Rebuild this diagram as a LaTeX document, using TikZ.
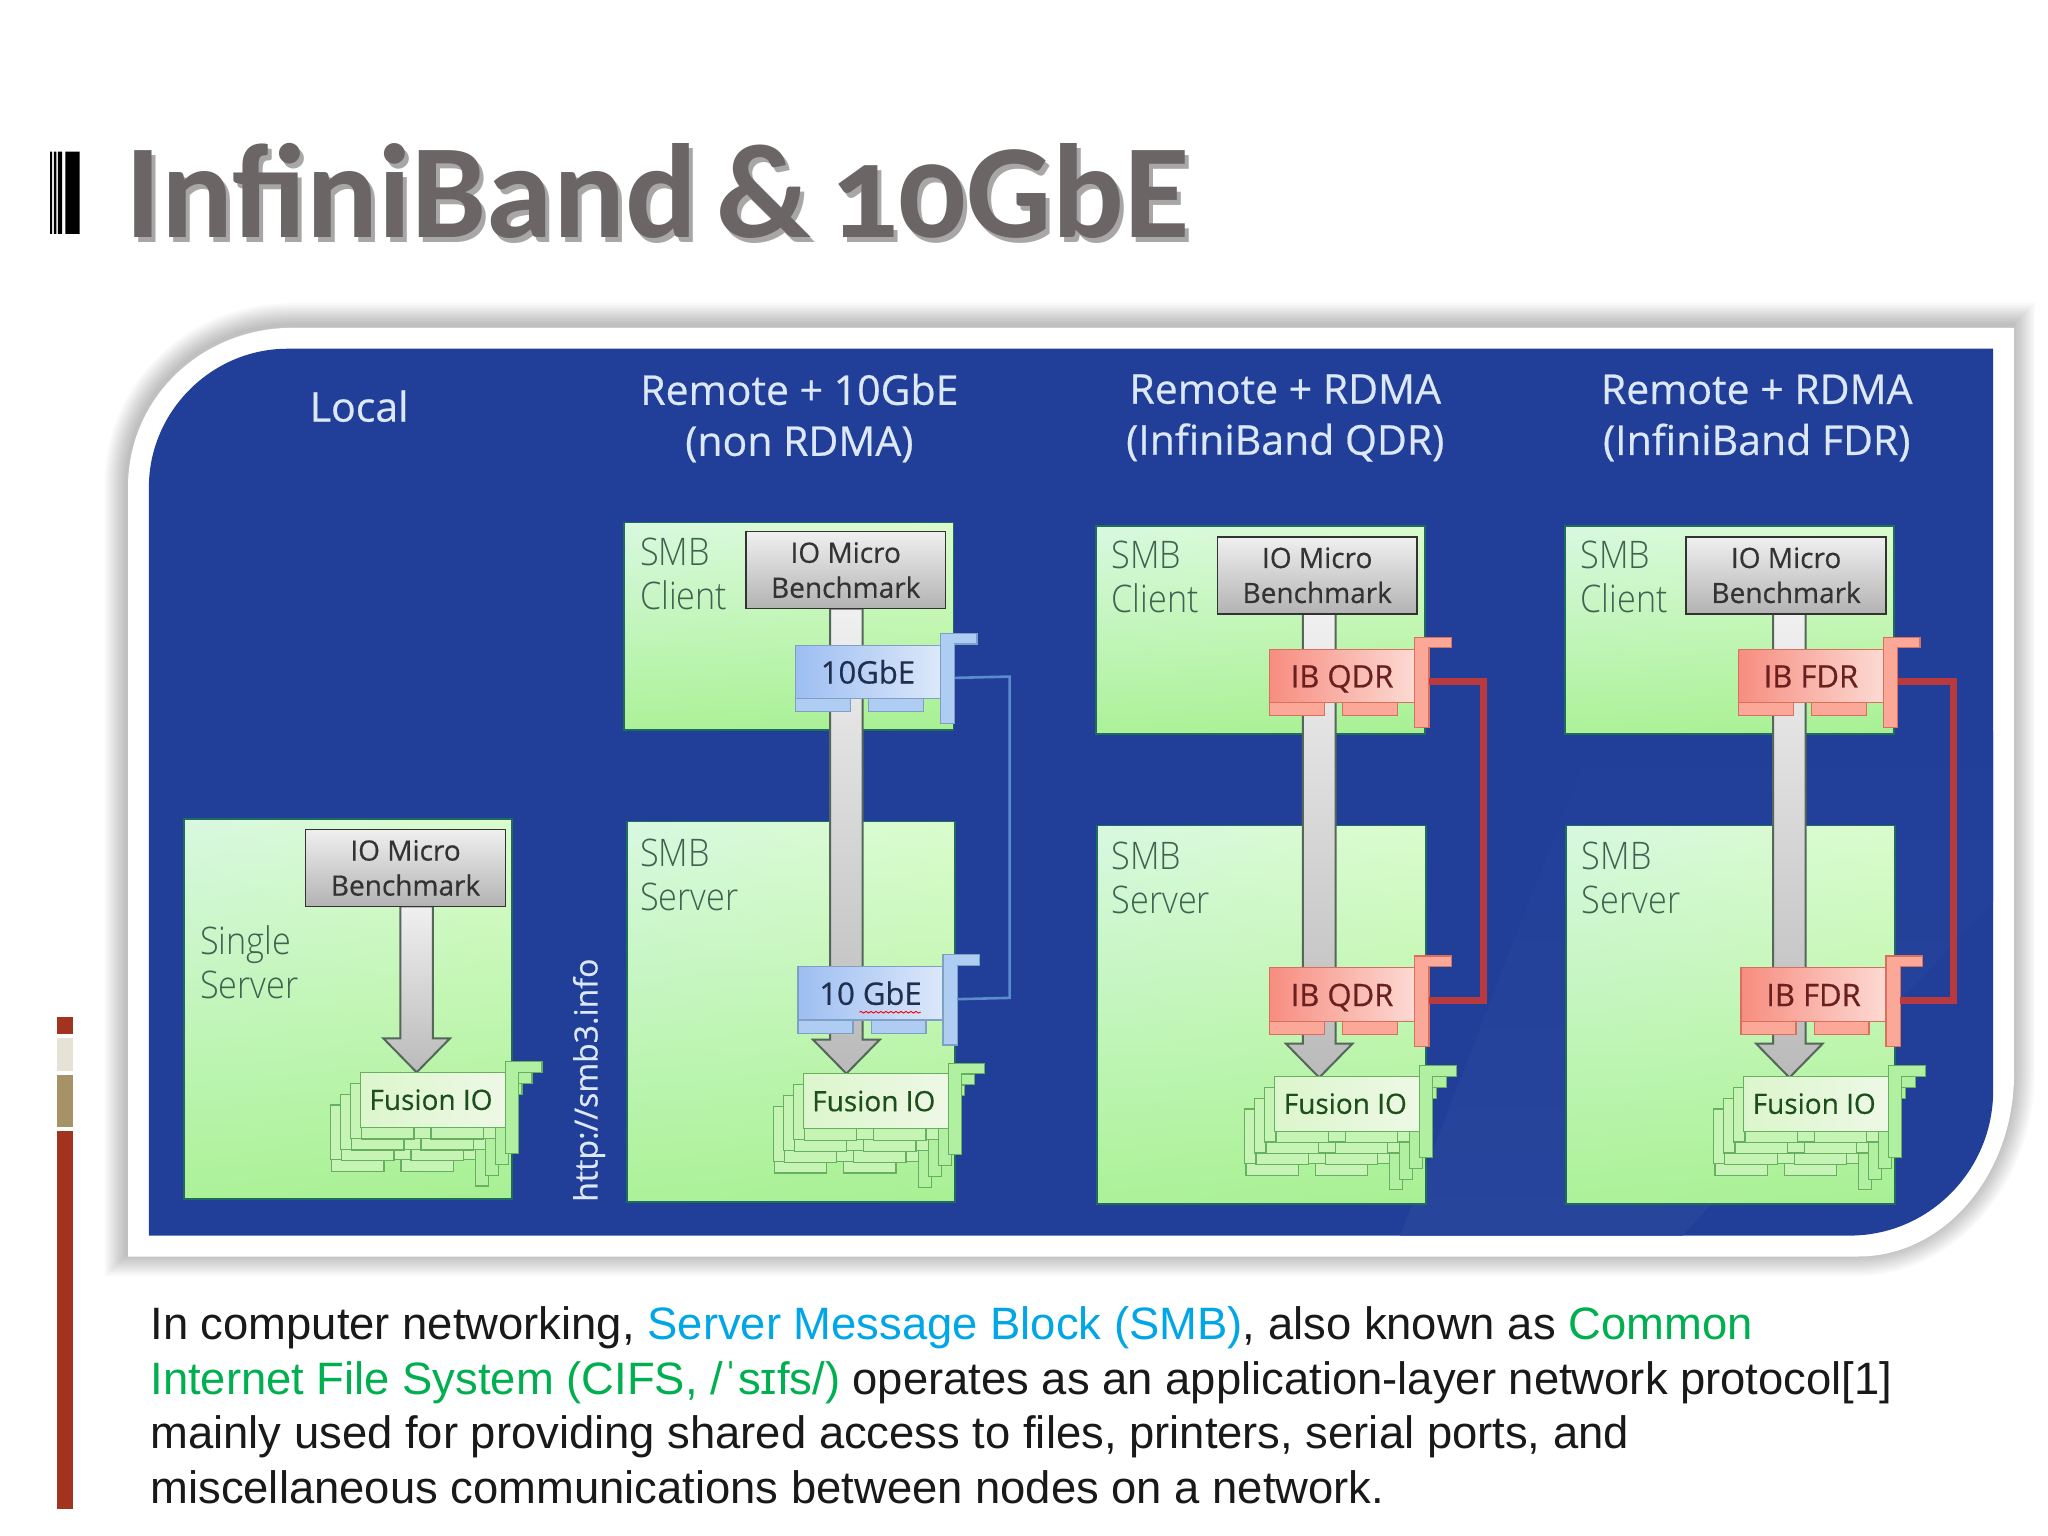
\documentclass[tikz,border=0pt]{standalone}
\usepackage{fontspec}
\setmainfont{Open Sans}
\newfontfamily\semifont{Open Sans}[FakeBold=0.5]
\IfFontExistsTF{Open Sans Light}
  {\newfontfamily\thinfont{Open Sans Light}[FakeStretch=0.9]}
  {\newfontfamily\thinfont{Open Sans}[FakeStretch=0.9]}
\newfontfamily\titlefont{Carlito}[Numbers=OldStyle,WordSpace=0.65]
\newfontfamily\bodyfont{Liberation Sans}
\usetikzlibrary{calc,shadings,decorations.pathmorphing}

\definecolor{panelblue}{HTML}{213F99}
\definecolor{swoosh}{HTML}{28459C}
\definecolor{headtext}{HTML}{DCE8F6}
\definecolor{paneltext}{HTML}{3F6350}
\definecolor{edge}{HTML}{1F6B5E}
\definecolor{titlegrey}{HTML}{6B6566}
\definecolor{titleshade}{HTML}{A8A6A6}
\definecolor{cyantext}{HTML}{00A6E6}
\definecolor{greentext}{HTML}{00B050}
\definecolor{barred}{HTML}{A1331F}
\definecolor{bartan}{HTML}{A79268}
\definecolor{barcream}{HTML}{E6E3D6}
\definecolor{pul}{HTML}{D8F8E0}
\definecolor{pur}{HTML}{DAFCCC}
\definecolor{pll}{HTML}{ACF298}
\definecolor{plr}{HTML}{A8F094}
\definecolor{arrowedge}{HTML}{55665A}
\definecolor{blueL}{HTML}{9DBEF2}
\definecolor{blueR}{HTML}{DCE8FA}
\definecolor{blueE}{HTML}{7F9FC4}
\definecolor{blueP}{HTML}{AFCCF2}
\definecolor{blueT}{HTML}{1F2F4F}
\definecolor{redL}{HTML}{F78D80}
\definecolor{redR}{HTML}{FCDAD3}
\definecolor{redE}{HTML}{D8705F}
\definecolor{redP}{HTML}{FBA898}
\definecolor{redT}{HTML}{6B2020}
\definecolor{redwire}{HTML}{B93A3E}
\definecolor{bluewire}{HTML}{5B8CCB}
\definecolor{layerE}{HTML}{66B060}
\definecolor{layerF}{HTML}{C6F4B4}
\definecolor{tabF}{HTML}{B0F0A0}
\definecolor{frontL}{HTML}{DCF6CC}
\definecolor{frontR}{HTML}{EEF8E6}
\definecolor{fusionT}{HTML}{1D4F1D}

\def\u{1.30612pt}

\tikzset{
  wh/.style 2 args={minimum width=#1*\u, minimum height=#2*\u, inner sep=0pt, outer sep=0pt},
  panel/.style={shade, draw=edge, line width=1.8pt, anchor=north west,
    upper left=pul, upper right=pur, lower left=pll, lower right=plr},
  iobox/.style={wh={153}{59}, anchor=north west, draw=black!80, line width=1.6pt,
    top color=black!6, bottom color=black!30, text=black!80, align=center,
    font=\semifont\fontsize{28}{35}\selectfont},
  head/.style={text=headtext, align=center, font=\semifont\fontsize{41}{51}\selectfont},
  plabel/.style={text=paneltext, align=left, anchor=west, inner sep=0pt,
    font=\thinfont\fontsize{38}{44}\selectfont},
  fatarrow/.style={draw=arrowedge, line width=2pt, top color=black!6, bottom color=black!27},
  blue card/.style={left color=blueL, right color=blueR, draw=blueE},
  blue part/.style={fill=blueP, draw=blueE},
  blue ink/.style={text=blueT},
  red card/.style={left color=redL, right color=redR, draw=redE},
  red part/.style={fill=redP, draw=redE},
  red ink/.style={text=redT},
  redlink/.style={draw=redwire, line width=7pt, line join=miter},
  bluelink/.style={draw=bluewire, line width=2.6pt},
  pics/nic/.style 2 args={code={
    \draw[#2 part, line width=1.2pt] (0,41) rectangle (42,51);
    \draw[#2 part, line width=1.2pt] (56,41) rectangle (98,51);
    \node (-body) [#2 card, #2 ink, wh={111}{41}, anchor=north west, line width=1.2pt,
      text height=23pt, text depth=0pt, font=\semifont\fontsize{31}{36}\selectfont] at (0,0) {#1};
    \draw[#2 part, line width=1.2pt] (111,-9) -- (139,-9) -- (139,-1) -- (122,-1)
      -- (122,60) -- (111,60) -- cycle;
    \coordinate (-port) at (122,25);
  }},
  layer/.style={fill=layerF, draw=layerE, line width=1.2pt},
  pics/fusion/.style={code={
    \draw[layer] (1,42) rectangle (41,51);
    \draw[layer] (54,42) rectangle (94,51);
    \node (-body) [#1, wh={111}{42}, anchor=north west, line width=1.2pt, draw=layerE] at (0,0) {};
    \draw[layer, fill=tabF] (111,-8) -- (139,-8) -- (139,0) -- (121,0)
      -- (121,62) -- (111,62) -- cycle;
  }},
  back/.style={fill=layerF},
  front/.style={left color=frontL, right color=frontR},
}

% one stack of fusion cards, #1 = prefix, (#2,#3) = front card top left
\newcommand{\fusionstack}[3]{
  \pic (#1c) at (#2-23,#3+25) {fusion=back};
  \pic (#1b) at (#2-15.4,#3+16.8) {fusion=back};
  \pic (#1a) at (#2-7.7,#3+8.4) {fusion=back};
  \pic (#1f) at (#2,#3) {fusion=front};
  \node (#1t) [text=fusionT, font=\semifont\fontsize{28}{32}\selectfont] at (#2+54,#3+21) {Fusion IO};
}

% grey arrow between two named coordinates
\newcommand{\bigarrow}[2]{
  \draw[fatarrow] ($(#1)+(-12.5,0)$) -- ($(#2)+(-12.5,-26)$) -- ($(#2)+(-25.5,-26)$) -- (#2)
    -- ($(#2)+(25.5,-26)$) -- ($(#2)+(12.5,-26)$) -- ($(#1)+(12.5,0)$) -- cycle;
}

\begin{document}
\begin{tikzpicture}[x=\u, y=-\u]
\useasboundingbox (0,0) rectangle (1568,1176);
\fill[white] (0,0) rectangle (1568,1176);

% bullet stripes
\fill[black] (38.3,116) rectangle (40,179) (41.3,116) rectangle (43.2,179)
  (44.4,116) rectangle (47.5,179) (50,116) rectangle (61,179);

% left bar
\fill[barred] (44,779) rectangle (56,792);
\fill[barcream] (44,795) rectangle (56,820);
\fill[bartan] (44,823) rectangle (56,863);
\fill[barred] (44,866) rectangle (56,1155);

% title, its shadow set inside the same node
\node (title) [anchor=base west, inner sep=0pt, text=titlegrey,
  font=\titlefont\bfseries\fontsize{134}{150}\selectfont] at (96,182)
  {\rlap{\kern4pt\raisebox{-5pt}{\textcolor{titleshade}{InfiniBand \& 10GbE}}}InfiniBand \& 10GbE};

% frame with its soft shadow
\def\framepath{(98,373) .. controls (98,304) and (155,251) .. (224,251) -- (1542,251) -- (1542,822)
  .. controls (1542,900) and (1488,962) .. (1423,962) -- (98,962) -- cycle}
\foreach \w in {4,8,...,44}
  \draw[black, opacity=0.022, line width=\w pt, shift={(-1,-2)}] \framepath;
\fill[white] \framepath;
\fill[panelblue] (114,373) .. controls (114,315) and (162,267) .. (220,267) -- (1526,267) -- (1526,835)
  .. controls (1526,896) and (1477,946) .. (1416,946) -- (114,946) -- cycle;
\shade[top color=panelblue, bottom color=swoosh] (1171,689) -- (1072,946) -- (1288,946) -- (1526,690)
  -- (1526,560) -- (1222,560) -- cycle;

% column titles
\node (h1) [head] at (275,311) {Local};
\node (h2) [head] at (612,320) {Remote + 10GbE\\(non RDMA)};
\node (h3) [head] at (984,320) {Remote + RDMA\\(InfiniBand QDR)};
\node (h4) [head] at (1345,320) {Remote + RDMA\\(InfiniBand FDR)};

% green boxes
\node (s1) [panel, wh={251}{291}] at (141,627) {};
\node (c2) [panel, wh={252}{159}] at (478,400) {};
\node (s2) [panel, wh={251}{291}] at (480,629) {};
\node (c3) [panel, wh={252}{159}] at (839,403) {};
\node (s3) [panel, wh={252}{290}] at (840,632) {};
\node (c4) [panel, wh={252}{159}] at (1198,403) {};
\node (s4) [panel, wh={252}{290}] at (1199,632) {};

\node (l1) [plabel] at (153,736.5) {Single\\Server};
\node (l2) [plabel] at (490,439.5) {SMB\\Client};
\node (l3) [plabel] at (490,669.5) {SMB\\Server};
\node (l4) [plabel] at (851,442) {SMB\\Client};
\node (l5) [plabel] at (851,672) {SMB\\Server};
\node (l6) [plabel] at (1210,442) {SMB\\Client};
\node (l7) [plabel] at (1211,672) {SMB\\Server};

% side text
\node (site) [rotate=90, text=headtext, font=\semifont\fontsize{32}{36}\selectfont, inner sep=0pt] at (451,827) {http://smb3.info};

% arrows
\coordinate (a1s) at (319,694);  \coordinate (a1e) at (319,821);
\coordinate (a2s) at (648,466);  \coordinate (a2e) at (648,822);
\coordinate (a3s) at (1010,470); \coordinate (a3e) at (1010,825);
\coordinate (a4s) at (1370,470); \coordinate (a4e) at (1370,825);
\bigarrow{a1s}{a1e}
\bigarrow{a2s}{a2e}
\bigarrow{a3s}{a3e}
\bigarrow{a4s}{a4e}

% benchmark boxes
\node (io1) [iobox] at (234,635) {IO Micro\\Benchmark};
\node (io2) [iobox] at (571,407) {IO Micro\\Benchmark};
\node (io3) [iobox] at (932,411) {IO Micro\\Benchmark};
\node (io4) [iobox] at (1291,411) {IO Micro\\Benchmark};

% links
\coordinate (w2t) at (773,518);  \coordinate (w2b) at (773,764);
\coordinate (w3t) at (1136,522); \coordinate (w3b) at (1136,766);
\coordinate (w4t) at (1496,522); \coordinate (w4b) at (1496,766);

% network cards
\pic (n2a) at (609,494) {nic={10GbE}{blue}};
\pic (n2b) at (611,740) {nic={10 GbE}{blue}};
\pic (n3a) at (972,497) {nic={IB QDR}{red}};
\pic (n3b) at (972,741) {nic={IB QDR}{red}};
\pic (n4a) at (1331,497) {nic={IB FDR}{red}};
\pic (n4b) at (1333,741) {nic={IB FDR}{red}};

\draw[red, line width=0.9pt, decorate, decoration={snake, amplitude=0.8pt, segment length=5pt}] (658,775) -- (705,775);

\draw[bluelink] (n2a-port) -- (w2t) -- (w2b) -- (n2b-port);
\draw[redlink] (n3a-port) -- (w3t) -- (w3b) -- (n3b-port);
\draw[redlink] (n4a-port) -- (w4t) -- (w4b) -- (n4b-port);

% fusion cards
\fusionstack{f1}{276}{821}
\fusionstack{f2}{615}{822}
\fusionstack{f3}{976}{824}
\fusionstack{f4}{1335}{824}

% body text
\node (body) [anchor=north west, align=left, inner sep=0pt, text=black!90,
  font=\bodyfont\fontsize{45.4}{54.8}\selectfont] at (115,1000) {In computer networking, \textcolor{cyantext}{Server Message Block (SMB)}, also known as \textcolor{greentext}{Common}\\
\textcolor{greentext}{Internet File System (CIFS, /ˈsɪfs/)} operates as an application-layer network protocol[1]\\
mainly used for providing shared access to files, printers, serial ports, and\\
miscellaneous communications between nodes on a network.};
\end{tikzpicture}
\end{document}
